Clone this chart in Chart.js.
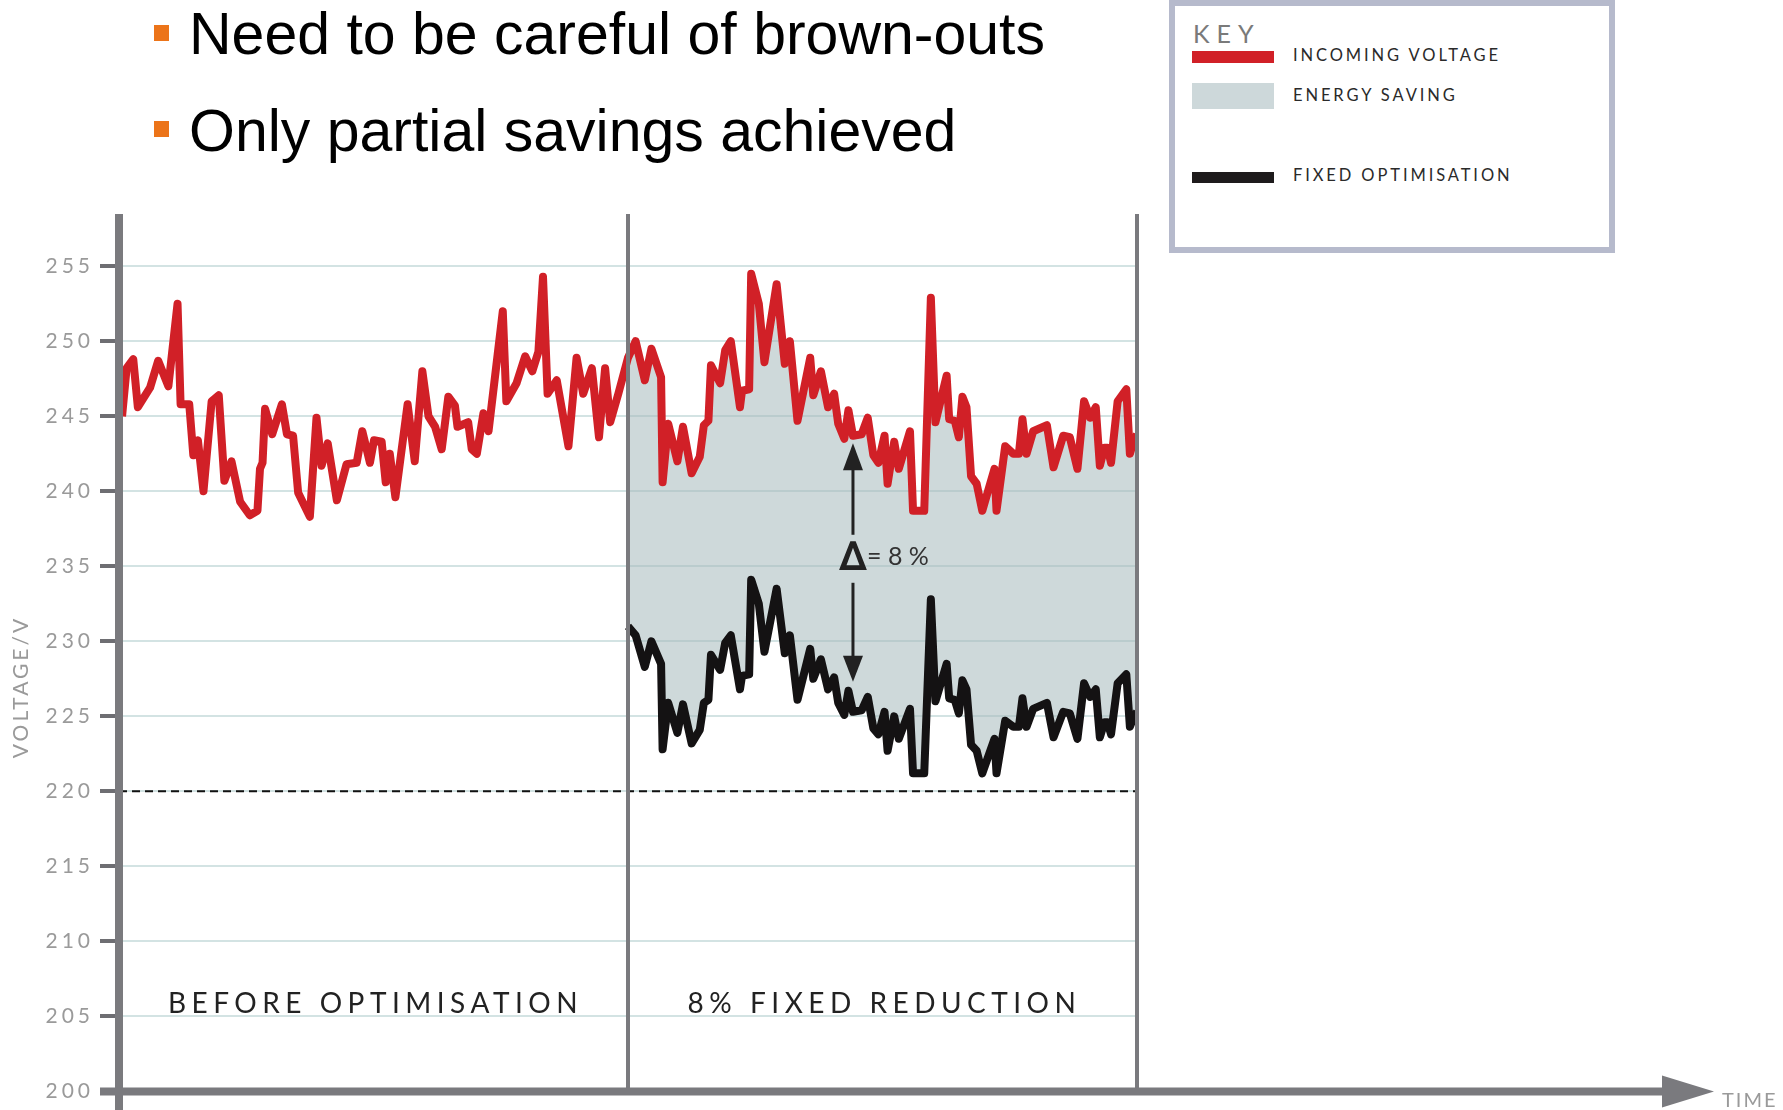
<html lang="en">
<head>
    <meta charset="utf-8">
    <title>Voltage - Fixed reduction</title>
    <script src="https://cdn.jsdelivr.net/npm/chart.js"></script>
    <style>
        body { margin:0; background:#fff; width:1783px; height:1110px; overflow:hidden; position:relative; }
        #myChart { position:absolute; left:0; top:0; }
        .sq { position:absolute; left:154px; width:15px; height:16px; background:#ec7419; }
        .point { position:absolute; left:189px; font-family:"Liberation Sans", Arial, sans-serif; font-size:59px; line-height:59px; color:#000; white-space:nowrap; }
        #key { position:absolute; left:1169px; top:0; width:434px; height:241px; border:6px solid #b6bacc; background:#fff; }
        .kt { position:absolute; left:1293px; font-family:Lato, sans-serif; font-size:16.5px; line-height:20px; letter-spacing:2.9px; color:#2a2a2a; white-space:nowrap; }
        .sw { position:absolute; left:1192px; width:82px; }
    </style>
</head>
<body>
    <canvas id="myChart" width="1783" height="1110" style="width:1783px;height:1110px"></canvas>

    <div class="sq" style="top:25px"></div>
    <div class="point" style="top:5px">Need to be careful of brown-outs</div>
    <div class="sq" style="top:121px"></div>
    <div class="point" style="top:102px">Only partial savings achieved</div>

    <div id="key"></div>
    <div style="position:absolute;left:1193px;top:18px;font-family:Lato,sans-serif;font-size:25px;line-height:30px;letter-spacing:7px;color:#7a7a7a">KEY</div>
    <div class="sw" style="top:51px;height:12px;background:#d12027"></div>
    <div class="kt" style="top:45px">INCOMING VOLTAGE</div>
    <div class="sw" style="top:83px;height:26px;background:#cdd8da"></div>
    <div class="kt" style="top:85px">ENERGY SAVING</div>
    <div class="sw" style="top:172px;height:11px;background:#1e1b1c"></div>
    <div class="kt" style="top:165px">FIXED OPTIMISATION</div>

<script>
// time runs 0..200: 0-100 before optimisation, 100-200 with 8% fixed reduction
var redT = [0.6, 1.5, 2.8, 3.7, 6.1, 7.7, 9.7, 11.5, 12.1, 13.8, 14.6, 15.5, 16.6, 18.2, 19.6, 20.7, 22.1, 23.8, 25.7, 27.2,
    27.7, 28.2, 28.7, 30.1, 32.0, 33.0, 34.2, 35.2, 37.5, 38.8, 39.8, 41.0, 42.8, 44.7, 46.7, 47.8, 49.3, 50.1, 51.6, 52.4,
    53.2, 54.3, 56.7, 58.1, 59.6, 60.8, 62.1, 63.4, 64.7, 66.0, 66.5, 68.6, 69.3, 70.3, 71.6, 72.6, 75.4, 76.1, 78.1, 79.8,
    81.2, 82.4, 83.3, 84.2, 86.0, 88.3, 89.9, 91.2, 92.9, 94.3, 95.5, 96.5, 98.1,
    100.0, 101.5, 103.3, 104.6, 106.5, 106.8, 107.9, 109.7, 110.8, 112.5, 114.1, 114.9, 115.8, 116.3, 118.1, 119.1, 120.2,
    122.0, 122.4, 123.8, 124.2, 125.7, 126.8, 129.2, 130.8, 131.8, 133.3, 135.8, 136.4, 137.9, 139.3, 140.5, 141.3, 142.5,
    143.3, 144.2, 145.9, 147.1, 148.2, 149.2, 150.4, 151.0, 152.3, 153.2, 155.4, 156.0, 158.2, 159.5, 160.4, 162.6, 163.1,
    164.2, 165.0, 165.7, 166.5, 167.4, 168.5, 169.6, 172.0, 172.4, 174.1, 175.7, 176.8, 177.5, 178.3, 179.6, 182.3, 183.6,
    185.5, 186.8, 188.3, 189.6, 190.8, 191.9, 192.7, 193.6, 194.2, 194.9, 196.2, 197.9, 198.6, 199.4, 200.0];
var redV = [245.0, 248.2, 248.8, 245.6, 246.9, 248.7, 247.0, 252.5, 245.8, 245.8, 242.4, 243.4, 240.0, 246.0, 246.4, 240.7, 242.0, 239.3, 238.4, 238.7,
    241.5, 241.9, 245.5, 243.8, 245.8, 243.8, 243.7, 239.9, 238.3, 244.9, 241.7, 243.2, 239.4, 241.8, 241.9, 244.0, 241.9, 243.4, 243.3, 240.6,
    242.5, 239.6, 245.8, 242.0, 248.0, 245.0, 244.3, 242.8, 246.3, 245.7, 244.3, 244.6, 242.8, 242.5, 245.2, 244.0, 252.0, 246.0, 247.2, 249.0,
    248.0, 249.3, 254.3, 246.5, 247.4, 243.0, 248.9, 246.5, 248.2, 243.6, 248.2, 244.6, 246.5,
    248.9, 250.0, 247.4, 249.5, 247.6, 240.6, 244.5, 242.0, 244.3, 241.2, 242.3, 244.4, 244.7, 248.4, 247.2, 249.4, 250.0,
    245.6, 246.7, 246.8, 254.5, 252.5, 248.6, 253.8, 248.5, 250.0, 244.7, 248.9, 246.4, 248.0, 245.6, 246.5, 244.5, 243.5,
    245.4, 243.7, 243.8, 244.9, 242.4, 241.9, 243.7, 240.5, 243.3, 241.5, 244.0, 238.7, 238.7, 252.9, 244.6, 247.7, 244.8,
    244.7, 243.6, 246.3, 245.6, 241.0, 240.5, 238.7, 241.5, 238.7, 243.0, 242.5, 242.5, 244.8, 242.5, 244.0, 244.4, 241.6,
    243.7, 243.6, 241.5, 246.0, 244.9, 245.6, 241.7, 242.9, 242.9, 241.9, 246.0, 246.8, 242.5, 243.4, 243.8];

var blackT = [100.0, 101.5, 103.3, 104.6, 106.5, 106.8, 107.9, 109.7, 110.8, 112.5, 114.1, 114.9, 115.8, 116.3, 118.1, 119.1, 120.2,
    122.0, 122.4, 123.8, 124.2, 125.7, 126.8, 129.2, 130.8, 131.8, 133.3, 135.8, 136.4, 137.9, 139.3, 140.5, 141.3, 142.5,
    143.3, 144.2, 145.9, 147.1, 148.2, 149.2, 150.4, 151.0, 152.3, 153.2, 155.4, 156.0, 158.2, 159.5, 160.4, 162.6, 163.1,
    164.2, 165.0, 165.7, 166.5, 167.4, 168.5, 169.6, 172.0, 172.4, 174.1, 175.7, 176.8, 177.5, 178.3, 179.6, 182.3, 183.6,
    185.5, 186.8, 188.3, 189.6, 190.8, 191.9, 192.7, 193.6, 194.2, 194.9, 196.2, 197.9, 198.6, 199.4, 200.0];
var blackV = [231.0, 230.4, 228.3, 230.0, 228.5, 222.8, 225.9, 223.9, 225.8, 223.2, 224.1, 225.9, 226.1, 229.1, 228.1, 229.9, 230.4,
    226.8, 227.7, 227.8, 234.1, 232.5, 229.3, 233.5, 229.2, 230.4, 226.1, 229.5, 227.5, 228.8, 226.8, 227.6, 225.9, 225.1,
    226.7, 225.3, 225.4, 226.3, 224.2, 223.8, 225.3, 222.7, 225.0, 223.5, 225.5, 221.2, 221.2, 232.8, 226.0, 228.5, 226.2,
    226.1, 225.2, 227.4, 226.8, 223.1, 222.7, 221.2, 223.5, 221.2, 224.7, 224.3, 224.3, 226.2, 224.3, 225.5, 225.9, 223.6,
    225.3, 225.2, 223.5, 227.2, 226.3, 226.8, 223.6, 224.6, 224.6, 223.8, 227.2, 227.8, 224.3, 225.0, 225.3];

var yTicks = [200, 205, 210, 215, 220, 225, 230, 235, 240, 245, 250, 255];
var panelEdges = [0, 100, 200];
var panelNames = ['BEFORE OPTIMISATION', '8% FIXED REDUCTION'];
var brownOut = 220;
// delta arrow: time, up tip, up tail, down tail, down tip, label baseline
var deltaT = 144.2, deltaUp = [243.2, 237.1], deltaDown = [233.9, 227.3], deltaLabelV = 235.1;

function pts(t, v) {
    return t.map(function (x, i) { return {x: x, y: v[i]}; });
}

var GREY = '#7a7a7e';

var decor = {
    id: 'decor',
    beforeDraw: function (chart) {
        chart.ctx.letterSpacing = '4px';
    },
    afterDatasetsDraw: function (chart) {
        var ctx = chart.ctx, a = chart.chartArea, y = chart.scales.y.getPixelForValue(brownOut);
        ctx.save();
        ctx.strokeStyle = '#111';
        ctx.lineWidth = 2;
        ctx.setLineDash([8, 5]);
        ctx.beginPath();
        ctx.moveTo(a.left, y);
        ctx.lineTo(a.right, y);
        ctx.stroke();
        ctx.restore();
    },
    afterDraw: function (chart) {
        var ctx = chart.ctx, a = chart.chartArea, xs = chart.scales.x, ys = chart.scales.y;
        ctx.save();
        ctx.letterSpacing = '0px';
        ctx.strokeStyle = GREY;
        // panel dividers
        ctx.lineWidth = 4;
        panelEdges.slice(1).forEach(function (t) {
            var px = xs.getPixelForValue(t);
            ctx.beginPath(); ctx.moveTo(px, a.top); ctx.lineTo(px, a.bottom); ctx.stroke();
        });
        // left axis
        ctx.lineWidth = 8;
        ctx.beginPath(); ctx.moveTo(a.left, a.top); ctx.lineTo(a.left, 1110); ctx.stroke();
        // time axis with arrow
        ctx.beginPath(); ctx.moveTo(100, a.bottom); ctx.lineTo(1665, a.bottom); ctx.stroke();
        ctx.fillStyle = GREY;
        ctx.beginPath();
        ctx.moveTo(1662, a.bottom - 16); ctx.lineTo(1714, a.bottom); ctx.lineTo(1662, a.bottom + 16);
        ctx.closePath(); ctx.fill();

        // panel labels
        ctx.fillStyle = '#222';
        ctx.font = '28px Lato';
        ctx.letterSpacing = '5.5px';
        ctx.textAlign = 'center';
        ctx.textBaseline = 'alphabetic';
        panelNames.forEach(function (n, i) {
            var cx = (xs.getPixelForValue(panelEdges[i]) + xs.getPixelForValue(panelEdges[i + 1])) / 2;
            ctx.fillText(n, cx + 2, a.bottom - 78);
        });

        // axis titles
        ctx.fillStyle = '#9a9a9a';
        ctx.font = '20px Lato';
        ctx.letterSpacing = '2px';
        ctx.textAlign = 'left';
        ctx.fillText('TIME', 1722, 1107);
        ctx.save();
        ctx.letterSpacing = '3px';
        ctx.font = '21px Lato';
        ctx.translate(28, 687);
        ctx.rotate(-Math.PI / 2);
        ctx.textAlign = 'center';
        ctx.fillText('VOLTAGE/V', 0, 0);
        ctx.restore();

        // delta annotation
        var ax = xs.getPixelForValue(deltaT);
        var u0 = ys.getPixelForValue(deltaUp[0]), u1 = ys.getPixelForValue(deltaUp[1]);
        var d0 = ys.getPixelForValue(deltaDown[0]), d1 = ys.getPixelForValue(deltaDown[1]);
        ctx.strokeStyle = '#222';
        ctx.fillStyle = '#222';
        ctx.lineWidth = 3;
        ctx.beginPath(); ctx.moveTo(ax, u0 + 20); ctx.lineTo(ax, u1); ctx.stroke();
        ctx.beginPath(); ctx.moveTo(ax, u0); ctx.lineTo(ax + 10, u0 + 27); ctx.lineTo(ax - 10, u0 + 27); ctx.closePath(); ctx.fill();
        ctx.beginPath(); ctx.moveTo(ax, d0); ctx.lineTo(ax, d1 - 20); ctx.stroke();
        ctx.beginPath(); ctx.moveTo(ax, d1); ctx.lineTo(ax + 10, d1 - 26); ctx.lineTo(ax - 10, d1 - 26); ctx.closePath(); ctx.fill();
        var ly = ys.getPixelForValue(deltaLabelV);
        ctx.letterSpacing = '0px';
        ctx.textAlign = 'center';
        ctx.font = '38px "DejaVu Sans"';
        ctx.lineWidth = 1.6;
        ctx.fillText('\u0394', ax, ly + 4);
        ctx.strokeText('\u0394', ax, ly + 4);
        ctx.textAlign = 'left';
        ctx.font = '25px Lato';
        ctx.fillStyle = '#333';
        ctx.fillText('= 8 %', ax + 14, ly);
        ctx.restore();
    }
};

new Chart('myChart', {
    type: 'line',
    data: {
        datasets: [{
            label: 'Incoming voltage',
            data: pts(redT, redV),
            borderColor: '#d12027',
            borderWidth: 8,
            borderJoinStyle: 'round',
            pointRadius: 0,
            tension: 0,
            fill: false
        }, {
            label: 'Fixed optimisation',
            data: pts(blackT, blackV),
            borderColor: '#141213',
            borderWidth: 8,
            borderJoinStyle: 'round',
            pointRadius: 0,
            tension: 0,
            fill: 0,
            backgroundColor: 'rgba(166,186,188,0.55)'
        }]
    },
    options: {
        responsive: false,
        maintainAspectRatio: false,
        devicePixelRatio: 1,
        animation: false,
        layout: { padding: { left: 0, right: 646, top: 214, bottom: 13 } },
        plugins: { legend: { display: false }, tooltip: { enabled: false } },
        scales: {
            x: { type: 'linear', min: panelEdges[0], max: panelEdges[2], display: false },
            y: {
                min: 200, max: 258.48,
                afterFit: function (s) { s.width = 119; },
                afterBuildTicks: function (s) { s.ticks = yTicks.map(function (v) { return {value: v}; }); },
                border: { display: false },
                grid: { color: '#d3e3e3', lineWidth: 2, drawTicks: true, tickLength: 19, tickColor: '#6e6e72', tickWidth: 4 },
                ticks: {
                    padding: 6,
                    color: '#9a9a9a',
                    font: { family: 'Lato', size: 21 },
                    callback: function (v) { return String(v); }
                }
            }
        }
    },
    plugins: [decor]
});
</script>
</body>
</html>
